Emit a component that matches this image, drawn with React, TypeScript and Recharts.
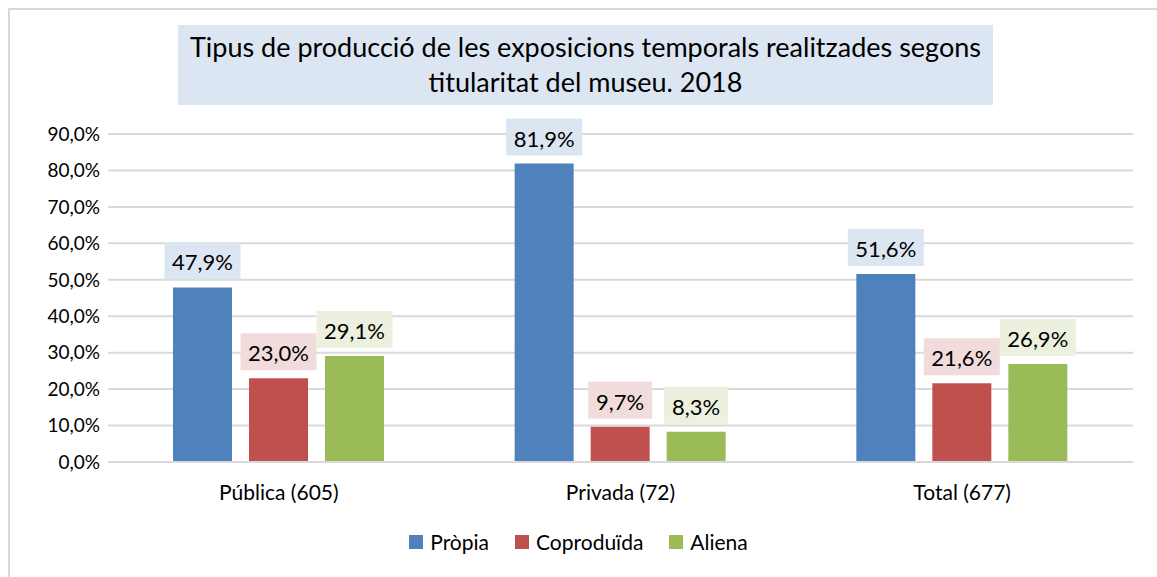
import { Bar, BarChart, CartesianGrid, LabelList, Legend, XAxis, YAxis } from "recharts";

const categories = ["Pública (605)", "Privada (72)", "Total (677)"];
const propia = [47.9, 81.9, 51.6];
const coproduida = [23.0, 9.7, 21.6];
const aliena = [29.1, 8.3, 26.9];
const yTicks = [0, 10, 20, 30, 40, 50, 60, 70, 80, 90];

const series = [
  { key: "propia", name: "Pròpia", color: "#4f81bd", boxFill: "#dce6f2" },
  { key: "coproduida", name: "Coproduïda", color: "#c0504d", boxFill: "#f2dcdb" },
  { key: "aliena", name: "Aliena", color: "#9bbb59", boxFill: "#ebf1de" },
];

const data = categories.map((c, i) => ({
  name: c,
  propia: propia[i],
  coproduida: coproduida[i],
  aliena: aliena[i],
}));

const FONT = "Lato, 'Noto Sans', sans-serif";

function pct(v: number): string {
  return `${v.toFixed(1).replace(".", ",")}%`;
}

function boxLabel(fill: string) {
  return (props: any) => {
    const { x, y, width, value } = props;
    const text = pct(Number(value));
    const w = 16 + text.length * 12;
    const h = 37;
    const cx = Number(x) + Number(width) / 2;
    const bottom = Number(y) - 8;
    return (
      <g>
        <rect x={cx - w / 2} y={bottom - h} width={w} height={h} fill={fill} />
        <text
          x={cx}
          y={bottom - h / 2 + 1}
          textAnchor="middle"
          dominantBaseline="central"
          fontSize={22}
          fontFamily={FONT}
          fill="#000"
        >
          {text}
        </text>
      </g>
    );
  };
}

function LegendBox() {
  return (
    <div
      style={{
        display: "flex",
        justifyContent: "center",
        alignItems: "center",
        gap: 26,
        fontFamily: FONT,
        fontSize: 21,
        color: "#000",
      }}
    >
      {series.map((s) => (
        <div key={s.key} style={{ display: "flex", alignItems: "center", gap: 7 }}>
          <span style={{ width: 14, height: 14, background: s.color, display: "inline-block" }} />
          <span>{s.name}</span>
        </div>
      ))}
    </div>
  );
}

export default function App() {
  return (
    <div style={{ position: "absolute", left: 0, top: 0, width: 1157, height: 577, overflow: "hidden", background: "#fff" }}>
      <div
        style={{
          position: "absolute",
          left: 8,
          top: 8,
          width: 1170,
          height: 590,
          border: "2px solid #d9d9d9",
        }}
      />
      <div
        style={{
          position: "absolute",
          left: 178,
          top: 25,
          width: 815,
          height: 80,
          background: "#dce6f2",
          fontFamily: FONT,
          fontSize: 27,
          lineHeight: "35px",
          textAlign: "center",
          color: "#000",
          paddingTop: 4,
          boxSizing: "border-box",
        }}
      >
        Tipus de producció de les exposicions temporals realitzades segons
        <br />
        titularitat del museu. 2018
      </div>
      <div style={{ position: "absolute", left: 0, top: 0 }}>
        <BarChart
          width={1157}
          height={577}
          data={data}
          margin={{ top: 134, right: 24, bottom: 39, left: 8 }}
          barSize={59}
          barGap={17}
        >
          <CartesianGrid vertical={false} stroke="#d9d9d9" strokeWidth={2} />
          <XAxis
            dataKey="name"
            height={40}
            axisLine={{ stroke: "#d9d9d9", strokeWidth: 2 }}
            tickLine={false}
            tickMargin={17}
            tick={{ fill: "#000", fontSize: 21, fontFamily: FONT }}
          />
          <YAxis
            width={100}
            domain={[0, 90]}
            ticks={yTicks}
            interval={0}
            axisLine={false}
            tickLine={false}
            tickFormatter={pct}
            tick={{ fill: "#000", fontSize: 19, fontFamily: FONT }}
          />
          <Legend
            verticalAlign="bottom"
            height={36}
            content={() => <LegendBox />}
            wrapperStyle={{ top: 529, left: 0, width: 1157 }}
          />
          {series.map((s) => (
            <Bar key={s.key} dataKey={s.key} name={s.name} fill={s.color} isAnimationActive={false}>
              <LabelList dataKey={s.key} content={boxLabel(s.boxFill)} />
            </Bar>
          ))}
        </BarChart>
      </div>
    </div>
  );
}
